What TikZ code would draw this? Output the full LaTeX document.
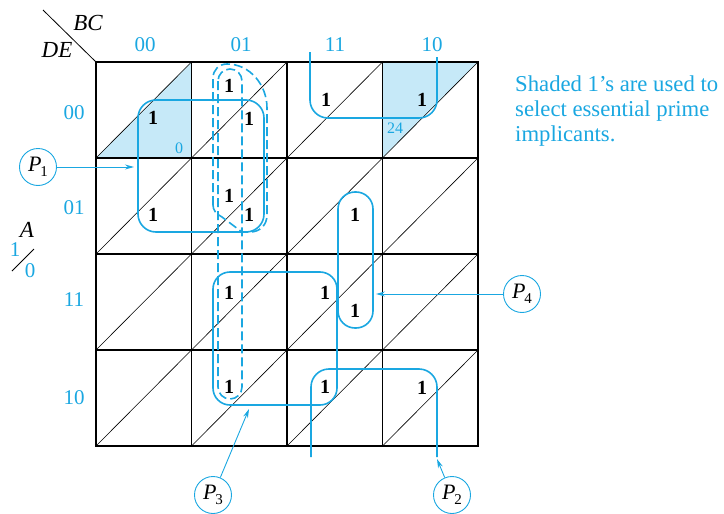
\documentclass[tikz,border=0pt]{standalone}
\usepackage{fontspec}
\setmainfont{Liberation Serif}
\usetikzlibrary{arrows.meta}
\definecolor{kcyan}{HTML}{1AA7E1}
\definecolor{kshade}{HTML}{C6E9F8}
\begin{document}
\begin{tikzpicture}[x=1pt,y=-1pt,
  oneb/.style={font=\fontsize{20}{20}\selectfont\bfseries, inner sep=0pt},
  lab/.style={text=kcyan, font=\fontsize{21}{21}\selectfont, inner sep=0pt},
  small/.style={text=kcyan, font=\fontsize{16}{16}\selectfont, inner sep=0pt},
  var/.style={font=\fontsize{23}{23}\selectfont\itshape, inner sep=0pt},
  loopS/.style={draw=kcyan, line width=1.6pt},
  loopD/.style={draw=kcyan, line width=1.6pt, dash pattern=on 9pt off 4pt},
  pcirc/.style={circle, draw=kcyan, line width=0.9pt, minimum size=37pt, inner sep=0pt, font=\fontsize{22}{22}\selectfont},
  parrow/.style={draw=kcyan, line width=0.9pt, -{Stealth[length=9pt,width=5pt]}},
  gridthin/.style={line width=0.6pt},
  gridmid/.style={line width=1.2pt},
]
\useasboundingbox (0,0) rectangle (724,514);
% shading
\fill[kshade] (96,158) -- (191.5,62) -- (191.5,158) -- cycle;
\fill[kshade] (382.5,62) -- (478,62) -- (382.5,158) -- cycle;
% diagonals
\foreach \c in {0,1,2,3}{
  \foreach \r in {0,1,2,3}{
    \draw[gridthin] (96+95.5*\c,158+96*\r) -- (191.5+95.5*\c,62+96*\r);
  }
}
% inner grid lines
\foreach \c in {1,2,3}{ \draw[gridmid] (96+95.5*\c,62) -- (96+95.5*\c,446); }
\foreach \r in {1,2,3}{ \draw[gridmid] (96,62+96*\r) -- (478,62+96*\r); }
\draw[line width=2pt] (96,62) rectangle (478,446);
% corner label
\draw[line width=0.8pt] (43,10) -- (96,62);
\node[var] (bc) at (88,23) {BC};
\node[var] (de) at (57,50) {DE};
% column labels
\node[lab] (c00) at (145,45) {00};
\node[lab] (c01) at (241,45) {01};
\node[lab] (c11) at (335,45) {11};
\node[lab] (c10) at (432,45) {10};
% row labels
\node[lab] (r00) at (74,113) {00};
\node[lab] (r01) at (74,208) {01};
\node[lab] (r11) at (74,300) {11};
\node[lab] (r10) at (74,398) {10};
% A key
\node[var] (avar) at (27,230) {A};
\node[lab] (a1) at (15,250) {1};
\node[lab] (a0) at (30,271) {0};
\draw[line width=0.8pt] (12,271) -- (34,249);
% small minterm numbers
\node[small] (m0) at (179,148) {0};
\node[small] (m24) at (395,128) {24};
% ones
\node[oneb] (o1) at (153,118) {1};
\node[oneb] (o2) at (229,86) {1};
\node[oneb] (o3) at (249,119) {1};
\node[oneb] (o4) at (326,100) {1};
\node[oneb] (o5) at (422,100) {1};
\node[oneb] (o6) at (153,215) {1};
\node[oneb] (o7) at (229,196) {1};
\node[oneb] (o8) at (249,215) {1};
\node[oneb] (o9) at (355,215) {1};
\node[oneb] (o10) at (229,293) {1};
\node[oneb] (o11) at (325,293) {1};
\node[oneb] (o12) at (355,311) {1};
\node[oneb] (o13) at (229,387) {1};
\node[oneb] (o14) at (325,387) {1};
\node[oneb] (o15) at (422,388) {1};
% loops
\draw[loopS, rounded corners=18pt] (138,100) rectangle (264,232);
\draw[loopS, rounded corners=18pt] (310,52) -- (310,118) -- (437,118) -- (437,57);
\draw[loopS, rounded corners=18pt] (311,457) -- (311,369) -- (437,369) -- (437,457);
\draw[loopS, rounded corners=17pt] (213,272) rectangle (337,405);
\draw[loopS, rounded corners=17pt] (338,192) rectangle (373,328);
\draw[loopD, rounded corners=12pt] (218,69) rectangle (242,399);
\draw[loopD] (213,205) -- (213,78) .. controls (213,70) and (219,64) .. (227,64)
  .. controls (250,64) and (267,85) .. (267,108) -- (267,215)
  .. controls (267,225) and (260,232) .. (250,232) -- (242,232) -- (222,217)
  .. controls (216,214) and (213,210) .. (213,205) -- cycle;
% P labels
\node[pcirc] (P1) at (38,167) {\itshape P\kern-1pt\raisebox{-0.5ex}{\fontsize{15}{15}\selectfont\upshape 1}};
\node[pcirc] (P2) at (452,495) {\itshape P\kern-1pt\raisebox{-0.5ex}{\fontsize{15}{15}\selectfont\upshape 2}};
\node[pcirc] (P3) at (213,495) {\itshape P\kern-1pt\raisebox{-0.5ex}{\fontsize{15}{15}\selectfont\upshape 3}};
\node[pcirc] (P4) at (522,294) {\itshape P\kern-1pt\raisebox{-0.5ex}{\fontsize{15}{15}\selectfont\upshape 4}};
\coordinate (t1) at (134,167);
\coordinate (t2) at (437,459);
\coordinate (t3) at (249,409);
\coordinate (t4) at (376,294);
\draw[parrow] (P1) -- (t1);
\draw[parrow] (P2) -- (t2);
\draw[parrow] (P3) -- (t3);
\draw[parrow] (P4) -- (t4);
% note
\node[text=kcyan, anchor=base west, align=left, inner sep=0pt, font=\fontsize{22.7}{25}\selectfont] (note) at (515,141)
  {Shaded 1’s are used to\\select essential prime\\implicants.};
\end{tikzpicture}
\end{document}
